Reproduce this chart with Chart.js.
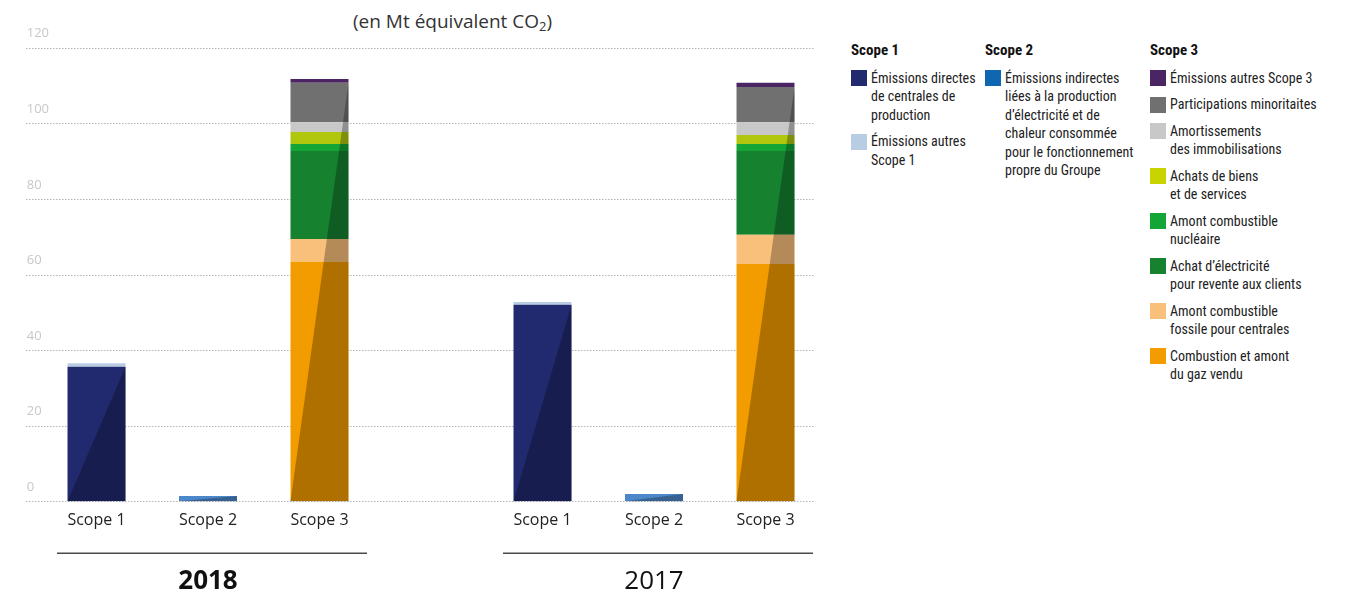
<!DOCTYPE html>
<html>
<head>
<meta charset="utf-8">
<script src="https://cdn.jsdelivr.net/npm/chart.js@4"></script>
<style>
body { margin: 0; width: 1348px; height: 594px; overflow: hidden; background: #fff; position: relative; font-family: 'Open Sans', sans-serif; }
#wrap { position: absolute; left: 0; top: 0; }
#title { position: absolute; left: 353px; top: 8px; font-size: 19px; color: #333; white-space: nowrap; }
#title sub { font-size: 13px; vertical-align: -3px; line-height: 0; }
.col { position: absolute; top: 41px; font-family: "Liberation Sans Narrow", "Roboto Condensed", "DejaVu Sans Condensed", Roboto, sans-serif; font-size: 14px; color: #222; line-height: 18.5px; }
.col h4 { margin: 0 0 9px; font-size: 15px; font-weight: bold; color: #111; }
.item { display: flex; margin-bottom: 8px; white-space: nowrap; }
.box { width: 16px; height: 16px; flex: none; margin: 1.5px 4px 0 0; }
</style>
</head>
<body>
<div id="title">(en Mt équivalent CO<sub>2</sub>)</div>
<div id="wrap"><canvas id="chart" width="840" height="595"></canvas></div>
<div class="col" id="col1" style="left:851px"></div>
<div class="col" id="col2" style="left:985px"></div>
<div class="col" id="col3" style="left:1150px"></div>
<script>
const categories = ['Scope 1', 'Scope 2', 'Scope 3', '', 'Scope 1', 'Scope 2', 'Scope 3'];
const yearLabels = ['', '2018', '', '', '', '2017', ''];
const yTicks = [0, 20, 40, 60, 80, 100, 120];

// Scope 1
const emissionsDirectes = [35.6, null, null, null, 52.0, null, null];
const emissionsAutresS1 = [0.9, null, null, null, 0.7, null, null];
// Scope 2
const emissionsIndirectes = [null, 1.4, null, null, null, 1.9, null];
// Scope 3
const combustionGaz = [null, null, 63.4, null, null, null, 62.8];
const amontFossile = [null, null, 6.0, null, null, null, 7.7];
const achatElectricite = [null, null, 23.3, null, null, null, 22.2];
const amontNucleaire = [null, null, 1.8, null, null, null, 1.8];
const achatsBiens = [null, null, 3.2, null, null, null, 2.4];
const amortissements = [null, null, 2.6, null, null, null, 3.4];
const participations = [null, null, 10.4, null, null, null, 9.3];
const emissionsAutresS3 = [null, null, 1.0, null, null, null, 1.1];

// bottom to top
const series = [
    { label: 'Émissions directes de centrales de production', data: emissionsDirectes, color: '#212a6e', key: '#212a6e' },
    { label: 'Émissions autres Scope 1', data: emissionsAutresS1, color: '#b8cce4', key: '#b8cce4' },
    { label: 'Émissions indirectes', data: emissionsIndirectes, color: '#4c87c9', key: '#0f67b1' },
    { label: 'Combustion et amont du gaz vendu', data: combustionGaz, color: '#f39c00', key: '#f39c00' },
    { label: 'Amont combustible fossile pour centrales', data: amontFossile, color: '#f8c07a', key: '#f8c07a' },
    { label: 'Achat d’électricité pour revente aux clients', data: achatElectricite, color: '#168230', key: '#168230' },
    { label: 'Amont combustible nucléaire', data: amontNucleaire, color: '#14a537', key: '#14a537' },
    { label: 'Achats de biens et de services', data: achatsBiens, color: '#b0c70e', key: '#c8d400' },
    { label: 'Amortissements des immobilisations', data: amortissements, color: '#c8c8c8', key: '#c8c8c8' },
    { label: 'Participations minoritaites', data: participations, color: '#707070', key: '#707070' },
    { label: 'Émissions autres Scope 3', data: emissionsAutresS3, color: '#4a2463', key: '#4a2463' }
];

// legend (html, same layout as the original)
const legendCols = [
    { id: 'col1', title: 'Scope 1', items: [
        [0, 'Émissions directes<br>de centrales de<br>production'],
        [1, 'Émissions autres<br>Scope 1']] },
    { id: 'col2', title: 'Scope 2', items: [
        [2, 'Émissions indirectes<br>liées à la production<br>d’électricité et de<br>chaleur consommée<br>pour le fonctionnement<br>propre du Groupe']] },
    { id: 'col3', title: 'Scope 3', items: [
        [10, 'Émissions autres Scope 3'],
        [9, 'Participations minoritaites'],
        [8, 'Amortissements<br>des immobilisations'],
        [7, 'Achats de biens<br>et de services'],
        [6, 'Amont combustible<br>nucléaire'],
        [5, 'Achat d’électricité<br>pour revente aux clients'],
        [4, 'Amont combustible<br>fossile pour centrales'],
        [3, 'Combustion et amont<br>du gaz vendu']] }
];
legendCols.forEach(col => {
    const el = document.getElementById(col.id);
    let html = '<h4>' + col.title + '</h4>';
    col.items.forEach(([idx, text]) => {
        html += '<div class="item"><span class="box" style="background:' + series[idx].key + '"></span><span>' + text + '</span></div>';
    });
    el.innerHTML = html;
});

const dottedGrid = {
    id: 'dottedGrid',
    beforeDatasetsDraw(chart) {
        const ctx = chart.ctx;
        const y = chart.scales.y;
        ctx.save();
        ctx.strokeStyle = '#b5b5b5';
        ctx.lineWidth = 1.2;
        ctx.setLineDash([1.5, 1.5]);
        yTicks.forEach(v => {
            const py = Math.round(y.getPixelForValue(v)) + 0.5;
            ctx.beginPath();
            ctx.moveTo(26, py);
            ctx.lineTo(815, py);
            ctx.stroke();
        });
        ctx.restore();
    }
};

// darker triangle on the right of every stack
const diagonalShade = {
    id: 'diagonalShade',
    afterDatasetsDraw(chart) {
        const ctx = chart.ctx;
        const base = chart.scales.y.getPixelForValue(0);
        categories.forEach((c, i) => {
            const els = [];
            chart.data.datasets.forEach((ds, d) => {
                if (ds.data[i] != null) els.push(chart.getDatasetMeta(d).data[i]);
            });
            if (!els.length) return;
            els.sort((a, b) => a.y - b.y);
            const top = els.length > 1 ? els[0].base : els[0].y;
            const left = els[0].x - els[0].width / 2;
            const right = els[0].x + els[0].width / 2;
            ctx.save();
            ctx.fillStyle = 'rgba(0,0,0,0.28)';
            ctx.beginPath();
            ctx.moveTo(left, base);
            ctx.lineTo(right, top);
            ctx.lineTo(right, base);
            ctx.closePath();
            ctx.fill();
            ctx.restore();
        });
    }
};

const groupLines = {
    id: 'groupLines',
    afterDraw(chart) {
        const ctx = chart.ctx;
        const x = chart.scales.x;
        const py = chart.chartArea.bottom + 52;
        ctx.save();
        ctx.strokeStyle = '#4a4a4a';
        ctx.lineWidth = 1.6;
        yearLabels.forEach((lab, i) => {
            if (!lab) return;
            const c = x.getPixelForValue(i) + 4;
            ctx.beginPath();
            ctx.moveTo(c - 155, py);
            ctx.lineTo(c + 155, py);
            ctx.stroke();
        });
        ctx.restore();
    }
};

Chart.defaults.font.family = "'Open Sans', sans-serif";

new Chart(document.getElementById('chart'), {
    type: 'bar',
    data: {
        labels: categories,
        datasets: series.map(s => ({
            label: s.label,
            data: s.data,
            backgroundColor: s.color,
            borderWidth: 0,
            categoryPercentage: 1,
            barPercentage: 0.52
        }))
    },
    options: {
        responsive: false,
        animation: false,
        layout: { padding: { left: 40.75, right: 18.75, top: 47.7, bottom: 0 } },
        plugins: { legend: { display: false }, tooltip: { enabled: false } },
        scales: {
            x: {
                stacked: true,
                grid: { display: false, drawTicks: false },
                border: { display: false },
                afterFit: s => { s.height = 29; },
                ticks: { autoSkip: false, maxRotation: 0, padding: 9.5, color: '#222', font: { size: 16 } }
            },
            x2: {
                type: 'category',
                labels: yearLabels,
                position: 'bottom',
                offset: true,
                grid: { display: false, drawTicks: false },
                border: { display: false },
                afterFit: s => { s.height = 64.7; },
                ticks: {
                    autoSkip: false, maxRotation: 0, padding: 36, color: '#111',
                    font: ctx => ({ size: 26, weight: ctx.tick && ctx.tick.label === '2018' ? 'bold' : 'normal' })
                }
            },
            y: {
                stacked: true,
                min: 0,
                max: 120,
                afterBuildTicks: s => { s.ticks = yTicks.map(v => ({ value: v })); },
                afterFit: s => { s.width = 0; },
                grid: { display: false, drawTicks: false },
                border: { display: false },
                ticks: { mirror: true, padding: -14, labelOffset: -14, color: '#c8c8c8', font: { size: 13 } }
            }
        }
    },
    plugins: [dottedGrid, diagonalShade, groupLines]
});
</script>
</body>
</html>
